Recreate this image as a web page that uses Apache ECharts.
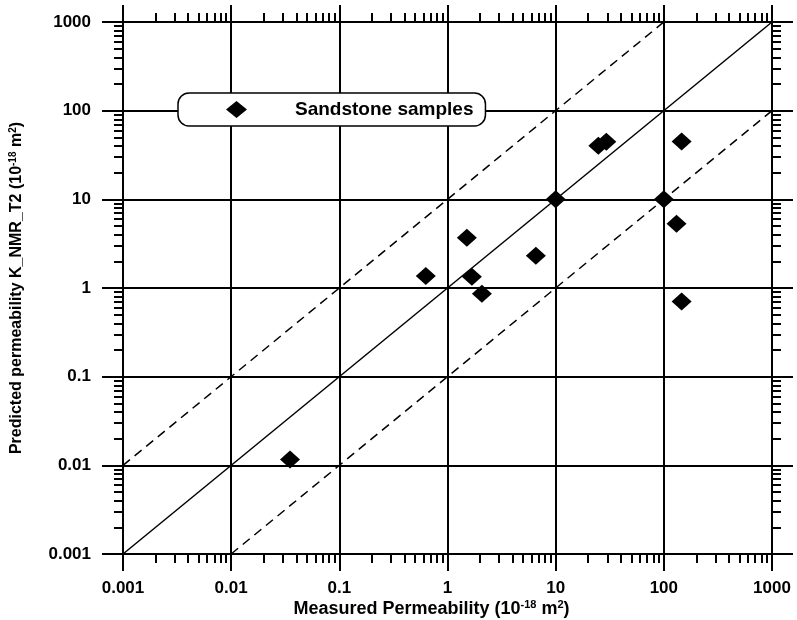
<!DOCTYPE html>
<html>
<head>
<meta charset="utf-8">
<script src="https://cdn.jsdelivr.net/npm/echarts@6/dist/echarts.min.js"></script>
<style>html,body{margin:0;padding:0;background:#fff;}#c{width:797px;height:620px;}</style>
</head>
<body>
<div id="c"></div>
<script>
// ---- data ----
var seriesName = 'Sandstone samples';
var measuredK = [0.035, 0.63, 1.51, 1.68, 2.08, 6.56, 10, 24.8, 29.4, 100, 146, 131, 146];
var predictedK = [0.0116, 1.37, 3.68, 1.34, 0.86, 2.31, 10, 40.2, 44.7, 10, 44.9, 5.3, 0.705];
var lineOneToOne = [[0.001, 0.001], [1000, 1000]];
var lineUpper = [[0.001, 0.01], [100, 1000]];
var lineLower = [[0.01, 0.001], [1000, 100]];
var tickLabels = ['0.001', '0.01', '0.1', '1', '10', '100', '1000'];
var decades = [0.001, 0.01, 0.1, 1, 10, 100];
var minorMultipliers = [2, 3, 4, 5, 6, 7, 8, 9];

var minorValues = [];
decades.forEach(function (d) { minorMultipliers.forEach(function (m) { minorValues.push(+(d * m).toPrecision(6)); }); });

var FONT = 'Liberation Sans, Arial, Helvetica, sans-serif';
var AX_MIN = 0.001, AX_MAX = 1000;

function labelFmt(v) {
  var i = Math.round(Math.log10(v)) + 3;
  return tickLabels[i] !== undefined ? tickLabels[i] : '';
}

function majorAxis(pos, isX, withLabels, name) {
  var a = {
    type: 'log', logBase: 10, min: AX_MIN, max: AX_MAX, splitNumber: 6, position: pos,
    axisLine: { show: true, onZero: false, lineStyle: { color: '#000', width: 2 } },
    axisTick: { show: true, inside: false, length: isX ? 17 : 21, lineStyle: { color: '#000', width: 2 } },
    minorTick: { show: false },
    splitLine: { show: withLabels, lineStyle: { color: '#000', width: 2 } },
    axisLabel: {
      show: withLabels, formatter: labelFmt, color: '#000', fontFamily: FONT, fontWeight: 'bold', fontSize: 17,
      margin: isX ? 26 : 32
    }
  };
  if (name) {
    a.name = name;
    a.nameLocation = 'middle';
    a.nameMoveOverlap = false;
    a.nameTextStyle = isX ? {
      fontFamily: FONT, padding: [0, 32, 0, 0],
      rich: {
        t: { fontFamily: FONT, fontWeight: 'bold', fontSize: 18, color: '#000', lineHeight: 20 },
        s: { fontFamily: FONT, fontWeight: 'bold', fontSize: 11, color: '#000', verticalAlign: 'top' }
      }
    } : {
      fontFamily: FONT,
      rich: {
        t: { fontFamily: FONT, fontWeight: 'bold', fontSize: 16, color: '#000', lineHeight: 18 },
        s: { fontFamily: FONT, fontWeight: 'bold', fontSize: 10, color: '#000', verticalAlign: 'top' }
      }
    };
    a.nameGap = isX ? 45 : 97;
  }
  return a;
}

function minorAxis(pos, isX) {
  return {
    type: 'log', logBase: 10, min: AX_MIN, max: AX_MAX, position: pos,
    axisLine: { show: false, onZero: false },
    axisTick: { show: true, inside: false, length: 9, customValues: minorValues, lineStyle: { color: '#000', width: 2 } },
    axisLabel: { show: false },
    splitLine: { show: false },
    minorTick: { show: false }
  };
}

var option = {
  backgroundColor: '#fff',
  animation: false,
  grid: { left: 123, top: 22, width: 649, height: 532, containLabel: false, outerBoundsMode: 'none' },
  legend: {
    data: [seriesName],
    left: 178, top: 93,
    orient: 'horizontal',
    icon: 'diamond',
    itemWidth: 21, itemHeight: 17,
    padding: [7, 12, 7, 48],
    backgroundColor: '#fff',
    borderColor: '#000', borderWidth: 1.5, borderRadius: 11,
    itemStyle: { color: '#000', opacity: 1 },
    textStyle: { fontFamily: FONT, fontWeight: 'bold', fontSize: 19, color: '#000', padding: [0, 0, 0, 43] },
    selectedMode: false
  },
  xAxis: [
    majorAxis('bottom', true, true, '{t|Measured Permeability (10}{s|-18}{t| m}{s|2}{t|)}'),
    minorAxis('bottom', true),
    majorAxis('top', true, false),
    minorAxis('top', true)
  ],
  yAxis: [
    majorAxis('left', false, true, '{t|Predicted permeability K_NMR_T2 (10}{s|-18}{t| m}{s|2}{t|)}'),
    minorAxis('left', false),
    majorAxis('right', false, false),
    minorAxis('right', false)
  ],
  series: [
    { name: '1:1', type: 'line', data: lineOneToOne, symbol: 'none', silent: true, z: 3,
      lineStyle: { color: '#000', width: 1.5, type: 'solid' } },
    { name: 'x10', type: 'line', data: lineUpper, symbol: 'none', silent: true, z: 3,
      lineStyle: { color: '#000', width: 1.5, type: [9, 6] } },
    { name: 'x0.1', type: 'line', data: lineLower, symbol: 'none', silent: true, z: 3,
      lineStyle: { color: '#000', width: 1.5, type: [9, 6] } },
    { name: seriesName, type: 'scatter', symbol: 'diamond', symbolSize: [20, 18], z: 5,
      itemStyle: { color: '#000', opacity: 1 },
      data: measuredK.map(function (x, i) { return [x, predictedK[i]]; }) }
  ]
};

var chart = echarts.init(document.getElementById('c'), null, { renderer: 'canvas' });
chart.setOption(option);
</script>
</body>
</html>
